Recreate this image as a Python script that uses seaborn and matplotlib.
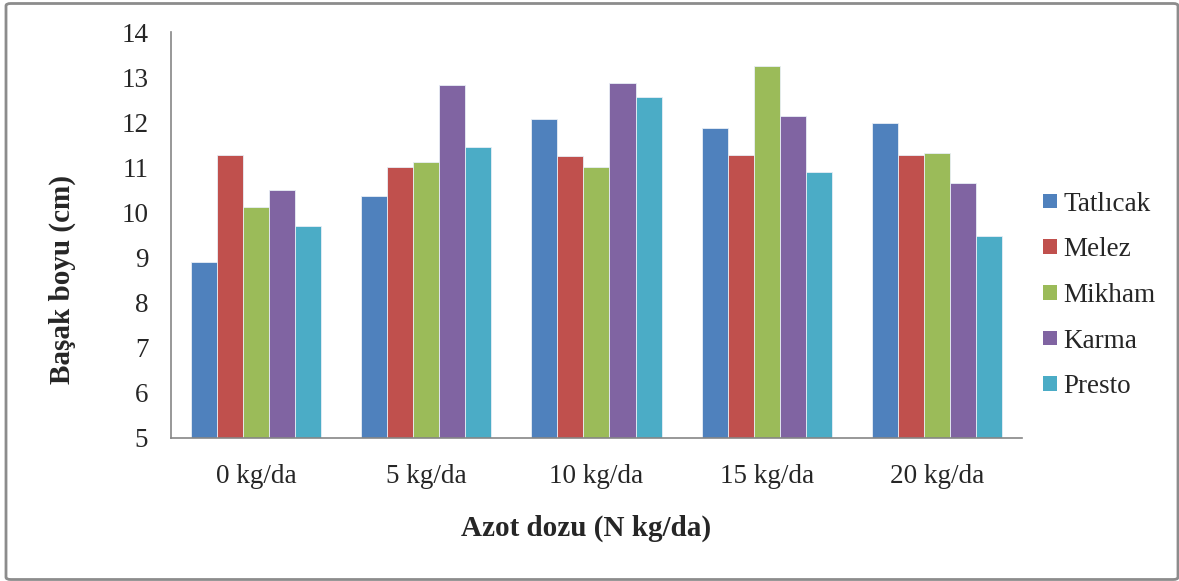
import matplotlib
matplotlib.use("Agg")
import matplotlib.pyplot as plt
import seaborn as sns
import pandas as pd
from matplotlib.patches import FancyBboxPatch, Patch

# ---- data ----
doses = ["0 kg/da", "5 kg/da", "10 kg/da", "15 kg/da", "20 kg/da"]
varieties = ["Tatlıcak", "Melez", "Mikham", "Karma", "Presto"]
tatlicak = [8.89, 10.37, 12.08, 11.88, 11.99]
melez = [11.28, 11.00, 11.26, 11.28, 11.28]
mikham = [10.12, 11.11, 11.00, 13.25, 11.31]
karma = [10.49, 12.82, 12.88, 12.14, 10.66]
presto = [9.69, 11.45, 12.56, 10.89, 9.47]
colors = ["#4F81BD", "#C0504D", "#9BBB59", "#8064A2", "#4BACC6"]

series = [tatlicak, melez, mikham, karma, presto]
rows = []
for name, vals in zip(varieties, series):
    for d, v in zip(doses, vals):
        rows.append({"doz": d, "cesit": name, "boy": v})
df = pd.DataFrame(rows)

sns.set_style("white")
plt.rcParams["font.family"] = ["Liberation Serif", "DejaVu Serif"]

fig = plt.figure(figsize=(11.79, 5.81), dpi=100)
ax = fig.add_axes([0.1450, 0.2466, 0.7218, 0.6983])

sns.barplot(data=df, x="doz", y="boy", hue="cesit", order=doses,
            hue_order=varieties, palette=colors, width=0.765,
            edgecolor="#e8eef6", linewidth=0.6, saturation=1, ax=ax,
            legend=False, errorbar=None)

ax.set_ylim(5, 14)
ax.set_xlim(-0.5, 4.5)
ax.set_yticks(range(5, 15))
ax.set_yticklabels([str(v) for v in range(5, 15)], fontsize=19.5)
ax.set_xticks(range(5))
ax.set_xticklabels(doses, fontsize=19.5)
ax.set_xticks([i - 0.5 for i in range(6)], minor=True)
ax.tick_params(axis="x", which="major", length=0, pad=19)
ax.tick_params(axis="x", which="minor", length=7, width=1.2, color="#868686", direction="out")
ax.tick_params(axis="y", which="major", length=5.8, width=1.2, color="#868686", direction="out", pad=10.5)

for s in ["top", "right"]:
    ax.spines[s].set_visible(False)
for s in ["left", "bottom"]:
    ax.spines[s].set_color("#868686")
    ax.spines[s].set_linewidth(1.2)

ax.set_xlabel("")
ax.set_ylabel("")
fig.text(586 / 1179, 1 - 528 / 581, "Azot dozu (N kg/da)", ha="center", va="center",
         fontsize=21, fontweight="bold")
fig.text(62 / 1179, 1 - 279 / 581, "Başak boyu (cm)", ha="center", va="center",
         rotation=90, fontsize=21, fontweight="bold")

handles = [Patch(facecolor=c, edgecolor="none") for c in colors]
fig.legend(handles, varieties, loc="upper left",
           bbox_to_anchor=(1032 / 1179, 1 - 181 / 581), frameon=False,
           fontsize=19.5, handlelength=0.54, handleheight=0.45, handletextpad=0.22,
           labelspacing=0.76, borderaxespad=0)

border = FancyBboxPatch((6 / 1179, 1.5 / 581), (1178 - 6) / 1179, (579 - 3) / 581,
                        boxstyle="round,pad=0,rounding_size=0.004",
                        transform=fig.transFigure, facecolor="none",
                        edgecolor="#8c8c8c", linewidth=2, zorder=10)
fig.patches.append(border)

fig.savefig("out.png", dpi=100)
